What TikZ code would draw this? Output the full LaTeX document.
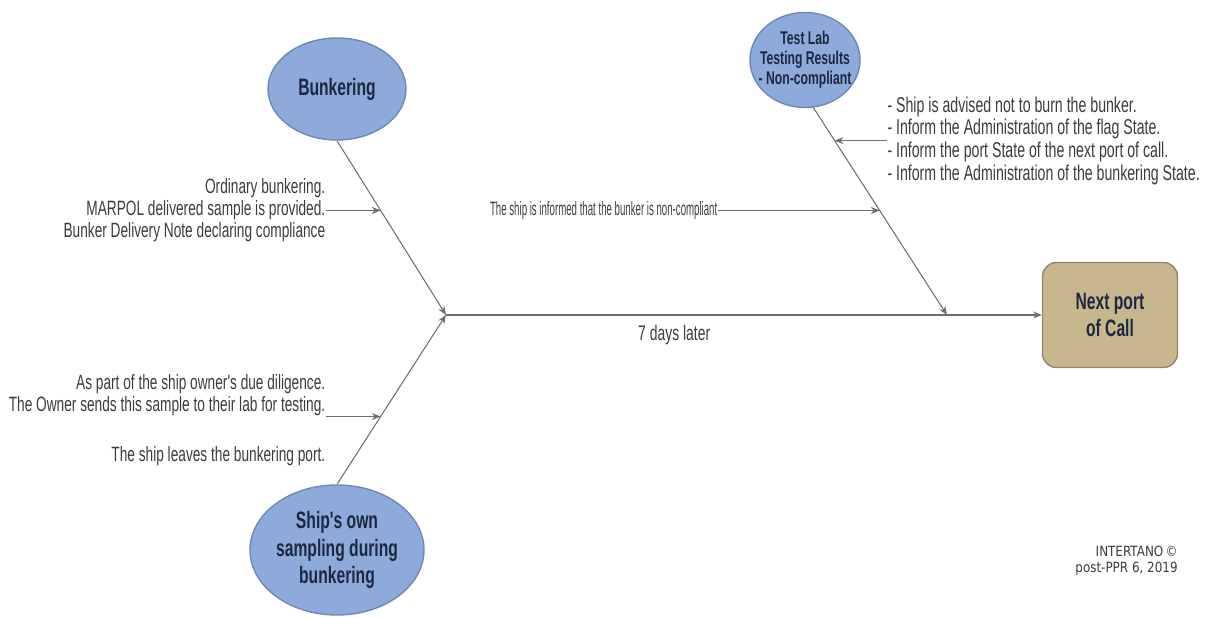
\documentclass[tikz,border=0pt]{standalone}
\usepackage{fontspec}
\newfontfamily\condfont{Liberation Sans}[FakeStretch=0.66]
\newfontfamily\slimfont{Liberation Sans}[FakeStretch=0.5]
\newfontfamily\creditfont{DejaVu Sans}[FakeStretch=0.85]
\usepackage{tikz}
\usetikzlibrary{shapes.geometric,arrows.meta,positioning,calc}
\usepackage{xcolor}
\definecolor{ovalfill}{HTML}{8EAADB}
\definecolor{ovaldraw}{HTML}{6F87B5}
\definecolor{ovaltext}{HTML}{1C2841}
\definecolor{portfill}{HTML}{C8B78E}
\definecolor{portdraw}{HTML}{8C8672}
\definecolor{linegray}{HTML}{6E6E6E}
\definecolor{notegray}{HTML}{3C3C3C}

\begin{document}
\begin{tikzpicture}[
    oval/.style={ellipse, draw=ovaldraw, fill=ovalfill, line width=0.8pt, inner sep=0pt, text=ovaltext, align=center},
    portbox/.style={rectangle, draw=portdraw, fill=portfill, line width=0.8pt, rounded corners=0.28cm, minimum width=2.7cm, minimum height=2.1cm, align=center, text=ovaltext, font=\condfont\bfseries\fontsize{13.5}{15.5}\selectfont},
    note/.style={inner sep=0pt, text=notegray, font=\condfont\fontsize{11.8}{12.6}\selectfont},
    arr/.style={-{Stealth[length=5pt,width=4pt]}, draw=linegray, line width=0.6pt}
]
\useasboundingbox (0,0) rectangle (24.1,12.36);

% causes and effect
\node[oval, minimum width=2.76cm, minimum height=2.04cm, font=\condfont\bfseries\fontsize{13.5}{15.5}\selectfont] (bunk) at (6.74,10.58) {Bunkering};
\node[oval, minimum width=3.48cm, minimum height=2.6cm, font=\condfont\bfseries\fontsize{13.5}{15.5}\selectfont] (ship) at (6.74,1.36) {Ship's own\\sampling during\\bunkering};
\node[oval, inner xsep=-12pt, minimum width=2.2cm, minimum height=1.9cm, font=\condfont\bfseries\fontsize{10.5}{11.5}\selectfont] (lab) at (16.1,11.16) {Test Lab\\Testing Results\\- Non-compliant};
\node[portbox] (port) at (22.2,6.06) {Next port\\of Call};

\coordinate (J) at (8.92,6.06);
\coordinate (K) at (18.94,6.06);

% spine
\draw[arr] (J) -- node[pos=0.383, below=0.2cm, note, font=\condfont\fontsize{12}{13}\selectfont] (days) {7 days later} (port.west);
\draw[arr] (bunk.south) -- coordinate[pos=0.4] (b1) (J);
\draw[arr] (ship.north) -- coordinate[pos=0.4] (s1) (J);
\draw[arr] (lab.-80) -- coordinate[pos=0.159] (l1) coordinate[pos=0.496] (l2) (K);

% side notes
\node[note, align=right, left=1.1cm of b1] (delivered) {Ordinary bunkering.\\MARPOL delivered sample is provided.\\Bunker Delivery Note declaring compliance};
\node[note, align=right, left=1.1cm of s1, anchor=south east] (owner) {As part of the ship owner's due diligence.\\The Owner sends this sample to their lab for testing.};
\node[note, align=right, below=0.6cm of owner.south east, anchor=north east] (leave) {The ship leaves the bunkering port.};
\node[note, font=\slimfont\fontsize{11}{12}\selectfont, left=3.24cm of l2] (informed) {The ship is informed that the bunker is non-compliant};
\node[note, align=left, font=\condfont\fontsize{12.2}{12.9}\selectfont, right=1.05cm of l1] (actions) {- Ship is advised not to burn the bunker.\\- Inform the Administration of the flag State.\\- Inform the port State of the next port of call.\\- Inform the Administration of the bunkering State.};

\draw[arr] (delivered.east) -- (b1);
\draw[arr] (owner.south east) -- (s1);
\draw[arr] (informed.east) -- (l2);
\draw[arr] (actions.west) -- (l1);

\node[inner sep=0pt, align=right, anchor=north east, text=notegray, font=\creditfont\fontsize{8}{9.5}\selectfont] (credit) at (23.56,1.45) {INTERTANO\,©\\post-PPR 6, 2019};
\end{tikzpicture}
\end{document}
